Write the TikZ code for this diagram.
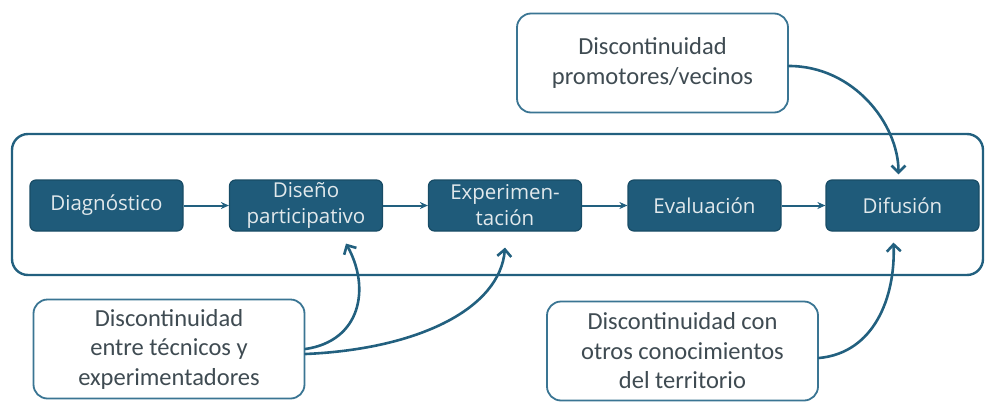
\documentclass[tikz,border=0pt]{standalone}
\usepackage{fontspec}
\setmainfont{Carlito}
\newfontfamily\boxfont{Open Sans}
\usetikzlibrary{arrows.meta}
\definecolor{darkfill}{HTML}{1F5B7A}
\definecolor{darkedge}{HTML}{184C66}
\definecolor{linecol}{HTML}{22607F}
\definecolor{calledge}{HTML}{3A7593}
\definecolor{boxtext}{HTML}{E2E9EC}
\definecolor{calltext}{HTML}{3F4B52}
\tikzset{
  stagebox/.style={rectangle, rounded corners=6pt, fill=darkfill, draw=darkedge, line width=1.2pt,
    minimum width=153pt, minimum height=51pt, inner sep=0pt, align=center,
    text=boxtext, font=\boxfont\fontsize{20.5}{26}\selectfont},
  callout/.style={rectangle, rounded corners=14pt, fill=white, draw=calledge, line width=1.8pt,
    minimum width=271pt, minimum height=99pt, inner sep=0pt, align=center,
    text=calltext, font=\fontsize{24.5}{29.5}\selectfont},
  flow/.style={draw=linecol, line width=2pt, -{Stealth[length=8pt,width=7pt]}},
  curvearrow/.style={draw=linecol, line width=2.6pt, line cap=round,
    -{Straight Barb[length=7pt,width=14pt,line width=2.6pt]}},
  frame/.style={draw=linecol, line width=2.4pt, rounded corners=16pt}
}
\begin{document}
\begin{tikzpicture}[x=1pt,y=-1pt]
\useasboundingbox (0,0) rectangle (986,402);
\node[frame, minimum width=971pt, minimum height=141pt, inner sep=0pt] (frm) at (497.5,204.5) {};
\node[stagebox] (diag) at (106.5,205.5) {Diagnóstico};
\node[stagebox] (dis) at (306,205.5) {Diseño\\participativo};
\node[stagebox] (exp) at (505,205.5) {Experimen-\\tación};
\node[stagebox] (eva) at (704.5,205.5) {Evaluación};
\node[stagebox] (dif) at (902.5,205.5) {Difusión};
\draw[flow] (diag) -- (dis);
\draw[flow] (dis) -- (exp);
\draw[flow] (exp) -- (eva);
\draw[flow] (eva) -- (dif);
\node[callout] (top) at (652.5,63) {Discontinuidad\\promotores/vecinos};
\node[callout] (bl) at (169,349) {Discontinuidad\\entre técnicos y\\experimentadores};
\node[callout] (br) at (682.5,351) {Discontinuidad con\\otros conocimientos\\del territorio};
\draw[curvearrow] ([yshift=-3pt]top.east) .. controls +(65,0) and +(0,-50) .. ([xshift=-4pt,yshift=5pt]dif.north);
\draw[curvearrow] ([yshift=0pt]bl.east) .. controls +(55,-8) and +(25,45) .. ([xshift=40pt,yshift=-12pt]dis.south);
\draw[curvearrow] ([yshift=-5pt]bl.east) .. controls +(115,-5) and +(-5,60) .. ([yshift=-16pt]exp.south);
\draw[curvearrow] ([yshift=-7pt]br.east) .. controls +(55,-5) and +(2,55) .. ([xshift=-9pt,yshift=-11pt]dif.south);
\end{tikzpicture}
\end{document}
